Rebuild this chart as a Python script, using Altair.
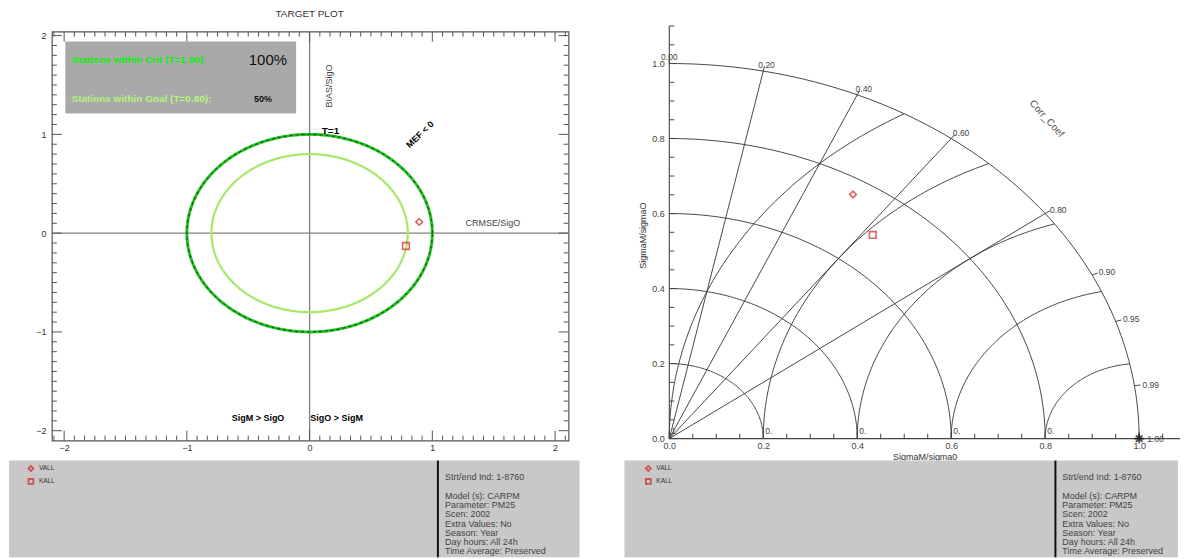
import numpy as np
import pandas as pd
import altair as alt

FONT = "Liberation Sans"

# ---------------- values ----------------
stations = ["VALL", "KALL"]
target_shapes = ["diamond", "square"]
target_crmse = [0.893, 0.785]       # CRMSE/SigO (signed by SigM vs SigO)
target_bias = [0.114, -0.130]       # BIAS/SigO
crit_radius = 1.0                   # T = 1.00
goal_radius = 0.8                   # T = 0.80
crit_label = "Stations within Crit (T=1.00):"
goal_label = "Stations within Goal (T=0.80):"
crit_pct = "100%"
goal_pct = "50%"
target_ticks_major = [-2, -1, 0, 1, 2]

taylor_x = [0.391, 0.433]           # sigmaM/sigmaO * corr
taylor_y = [0.651, 0.543]           # sigmaM/sigmaO * sqrt(1-corr^2)
taylor_shapes = ["diamond", "square"]
right_legend_shapes = ["diamond", "diamond"]

std_radii = [0.2, 0.4, 0.6, 0.8, 1.0]
rmsd_radii = [0.2, 0.4, 0.6, 0.8, 1.0]
rmsd_labels = ["0.", "0.", "0.", "0.", "1."]
corr_lines = [0.2, 0.4, 0.6, 0.8]
corr_ticks = [0.0, 0.2, 0.4, 0.6, 0.8, 0.9, 0.95, 0.99, 1.0]
corr_tick_labels = ["0.00", "0.20", "0.40", "0.60", "0.80", "0.90", "0.95", "0.99", "1.00"]
taylor_axis_values = [0.0, 0.2, 0.4, 0.6, 0.8, 1.0]

info_lines = ["Strt/end Ind: 1-8760", "", "Model (s): CARPM", "Parameter: PM25",
              "Scen: 2002", "Extra Values: No", "Season: Year",
              "Day hours: All 24h", "Time Average: Preserved"]

RED = "#d42020"

# ======================= TARGET PLOT =======================
tdx = [-2.1, 2.11]
tdy = [-2.1, 2.04]
TW, TH = 518, 410
tpx = TW / (tdx[1] - tdx[0])
tpy = TH / (tdy[1] - tdy[0])

TXS = alt.Scale(domain=tdx, nice=False, zero=False)
TYS = alt.Scale(domain=tdy, nice=False, zero=False)
t_xaxis = alt.Axis(values=target_ticks_major, ticks=False, domain=False, grid=False,
                   labelFontSize=9, labelColor="#333", labelPadding=3, labelFont=FONT,
                   labelFlush=False, title=None)
t_yaxis = alt.Axis(values=target_ticks_major, ticks=False, domain=False, grid=False,
                   labelFontSize=9, labelColor="#333", labelPadding=6, labelFont=FONT,
                   labelFlush=False, title=None)


def TX(f):
    return alt.X(f, type="quantitative", scale=TXS, axis=t_xaxis)


def TY(f):
    return alt.Y(f, type="quantitative", scale=TYS, axis=t_yaxis)


# frame ticks (inward)
trows = []
for k in range(-25, 26):
    v = k / 12
    L = 10 if k % 12 == 0 else 5
    trows.append(dict(x=v, x2=v, y=tdy[0], y2=tdy[0] + L / tpy))
    trows.append(dict(x=v, x2=v, y=tdy[1], y2=tdy[1] - L / tpy))
for k in range(-20, 21):
    v = k / 10
    L = 10 if k % 10 == 0 else 5
    trows.append(dict(y=v, y2=v, x=tdx[0], x2=tdx[0] + L / tpx))
    trows.append(dict(y=v, y2=v, x=tdx[1], x2=tdx[1] - L / tpx))
tticks = alt.Chart(pd.DataFrame(trows)).mark_rule(color="#555", strokeWidth=1).encode(
    x=TX("x"), x2="x2", y=TY("y"), y2="y2")

stat_box = alt.Chart(pd.DataFrame([dict(x=-1.99, x2=-0.11, y=1.21, y2=1.94)])).mark_rect(
    color="#a9a9a9").encode(x=TX("x"), x2="x2", y=TY("y"), y2="y2")

zero_v = alt.Chart(pd.DataFrame({"v": [0]})).mark_rule(color="#808080", strokeWidth=1.3).encode(x=TX("v"))
zero_h = alt.Chart(pd.DataFrame({"v": [0]})).mark_rule(color="#808080", strokeWidth=1.3).encode(y=TY("v"))

ang = np.linspace(0, 2 * np.pi, 361)
circ = pd.DataFrame([dict(r=r, o=i, x=r * np.cos(a), y=r * np.sin(a))
                     for r in [crit_radius, goal_radius] for i, a in enumerate(ang)])
goal_c = alt.Chart(circ).transform_filter(alt.datum.r == goal_radius).mark_line(
    color="#a6e86a", strokeWidth=2.2).encode(x=TX("x"), y=TY("y"), order="o:Q")
crit_c = alt.Chart(circ).transform_filter(alt.datum.r == crit_radius).mark_line(
    color="#22c322", strokeWidth=3).encode(x=TX("x"), y=TY("y"), order="o:Q")
crit_d = alt.Chart(circ).transform_filter(alt.datum.r == crit_radius).mark_line(
    color="#111", strokeWidth=0.8, strokeDash=[3, 3]).encode(x=TX("x"), y=TY("y"), order="o:Q")

tpts = pd.DataFrame(dict(name=stations, x=target_crmse, y=target_bias))
t_points = alt.Chart(tpts).mark_point(filled=False, color=RED, strokeWidth=1.6, size=45).encode(
    x=TX("x"), y=TY("y"),
    shape=alt.Shape("name:N", scale=alt.Scale(domain=stations, range=target_shapes), legend=None))


def ttext(df, **kw):
    base = dict(font=FONT, fontSize=9, color="#222")
    base.update(kw)
    return alt.Chart(pd.DataFrame(df)).mark_text(**base).encode(x=TX("x"), y=TY("y"), text="t:N")


t_texts = [
    ttext([dict(x=0.0, y=2.222, t="TARGET PLOT")], fontSize=10, color="#333"),
    ttext([dict(x=0.16, y=1.49, t="BIAS/SigO")], angle=270, color="#444"),
    ttext([dict(x=1.27, y=0.10, t="CRMSE/SigO")], align="left", color="#444"),
    ttext([dict(x=0.17, y=1.03, t="T=1")], fontWeight="bold", fontSize=10, color="#000"),
    ttext([dict(x=0.90, y=1.00, t="MEF < 0")], fontWeight="bold", angle=316, color="#000"),
    ttext([dict(x=-0.42, y=-1.87, t="SigM > SigO"), dict(x=0.22, y=-1.87, t="SigO > SigM")],
          fontWeight="bold", color="#000"),
    ttext([dict(x=-1.94, y=1.75, t=crit_label)], align="left", fontWeight="bold", fontSize=10,
          color="#0af00a"),
    ttext([dict(x=-1.94, y=1.36, t=goal_label)], align="left", fontWeight="bold", fontSize=10,
          color="#b4f57c"),
    ttext([dict(x=-0.34, y=1.75, t=crit_pct)], fontSize=15, color="#111"),
    ttext([dict(x=-0.38, y=1.36, t=goal_pct)], fontWeight="bold", color="#111"),
]

target = alt.layer(stat_box, zero_v, zero_h, goal_c, crit_c, crit_d, tticks, *t_texts, t_points).properties(
    width=TW, height=TH, view=alt.ViewBackground(stroke="#555", strokeWidth=1.2))

# ======================= TAYLOR DIAGRAM =======================
xd = [0, 1.087]
yd = [0, 1.085]
PW, PH = 512, 408
ppx = PW / (xd[1] - xd[0])
ppy = PH / (yd[1] - yd[0])

PXS = alt.Scale(domain=xd, nice=False, zero=False)
PYS = alt.Scale(domain=yd, nice=False, zero=False)
p_xaxis = alt.Axis(values=taylor_axis_values, format=".1f", ticks=False, domain=False, grid=False,
                   labelFontSize=9, labelColor="#444", labelPadding=3, labelFont=FONT,
                   labelFlush=False, title="SigmaM/sigma0", titleFont=FONT, titleFontSize=9,
                   titleFontWeight="normal", titleColor="#333", titlePadding=2)
p_yaxis = alt.Axis(values=taylor_axis_values, format=".1f", ticks=False, domain=False, grid=False,
                   labelFontSize=9, labelColor="#444", labelPadding=5, labelFont=FONT,
                   labelFlush=False, title="SigmaM/sigmaO", titleFont=FONT, titleFontSize=9,
                   titleFontWeight="normal", titleColor="#333", titlePadding=4)


def PX(f):
    return alt.X(f, type="quantitative", scale=PXS, axis=p_xaxis)


def PY(f):
    return alt.Y(f, type="quantitative", scale=PYS, axis=p_yaxis)


LINE = "#333"
th = np.linspace(0, np.pi / 2, 91)
std_df = pd.DataFrame([dict(r=r, o=i, x=r * np.cos(a), y=r * np.sin(a))
                       for r in std_radii for i, a in enumerate(th)])
std_arcs = alt.Chart(std_df).mark_line(color=LINE, strokeWidth=0.9).encode(
    x=PX("x"), y=PY("y"), detail="r:N", order="o:Q")

rm_rows = []
for rho in rmsd_radii:
    amax = np.arccos(rho / 2)
    for i, a in enumerate(np.linspace(0, amax, 90)):
        rm_rows.append(dict(r=rho, o=i, x=1 - rho * np.cos(a), y=rho * np.sin(a)))
rmsd_arcs = alt.Chart(pd.DataFrame(rm_rows)).mark_line(color=LINE, strokeWidth=0.9).encode(
    x=PX("x"), y=PY("y"), detail="r:N", order="o:Q")

rad_df = pd.DataFrame([dict(x=0, y=0, x2=c, y2=np.sqrt(1 - c * c)) for c in corr_lines])
radials = alt.Chart(rad_df).mark_rule(color=LINE, strokeWidth=0.9).encode(
    x=PX("x"), y=PY("y"), x2="x2", y2="y2")

ot_df = pd.DataFrame([dict(x=c, y=np.sqrt(1 - c * c), x2=c * 1.013, y2=np.sqrt(1 - c * c) * 1.013)
                      for c in corr_ticks])
outer_ticks = alt.Chart(ot_df).mark_rule(color=LINE, strokeWidth=0.9).encode(
    x=PX("x"), y=PY("y"), x2="x2", y2="y2")

ax_df = pd.DataFrame([dict(x=0, x2=xd[1], y=0, y2=0), dict(x=0, x2=0, y=0, y2=1.1)])
axes_lines = alt.Chart(ax_df).mark_rule(color="#444", strokeWidth=1.1).encode(
    x=PX("x"), y=PY("y"), x2="x2", y2="y2")

at_rows = []
for k in range(0, 23):
    L = 7 if k % 4 == 0 else 5
    at_rows.append(dict(x=0, x2=L / ppx, y=k * 0.05, y2=k * 0.05))
for k in range(0, 22):
    L = 7 if k % 4 == 0 else 5
    at_rows.append(dict(x=k * 0.05, x2=k * 0.05, y=0, y2=L / ppy))
axis_ticks = alt.Chart(pd.DataFrame(at_rows)).mark_rule(color="#444", strokeWidth=1).encode(
    x=PX("x"), y=PY("y"), x2="x2", y2="y2")

cl_df = pd.DataFrame(dict(t=corr_tick_labels,
                          x=[c * 1.035 for c in corr_ticks],
                          y=[np.sqrt(1 - c * c) * 1.017 for c in corr_ticks]))
corr_text = alt.Chart(cl_df).mark_text(font=FONT, fontSize=8.5, color="#444").encode(
    x=PX("x"), y=PY("y"), text="t:N")

rl_df = pd.DataFrame(dict(t=rmsd_labels, x=[1 - r for r in rmsd_radii], y=[0.0] * len(rmsd_radii)))
rmsd_text = alt.Chart(rl_df).mark_text(font=FONT, fontSize=8.5, color="#444", align="left",
                                       baseline="bottom", dx=2, dy=-3).encode(
    x=PX("x"), y=PY("y"), text="t:N")

cc_text = alt.Chart(pd.DataFrame([dict(x=0.803, y=0.853, t="Corr_Coef")])).mark_text(
    font=FONT, fontSize=10, color="#555", angle=48).encode(x=PX("x"), y=PY("y"), text="t:N")

ppts = pd.DataFrame(dict(name=stations, x=taylor_x, y=taylor_y))
p_points = alt.Chart(ppts).mark_point(filled=False, color=RED, strokeWidth=1.6, size=45).encode(
    x=PX("x"), y=PY("y"),
    shape=alt.Shape("name:N", scale=alt.Scale(domain=stations, range=taylor_shapes), legend=None))

ref_pt = alt.Chart(pd.DataFrame([dict(x=1.0, y=0.0)])).mark_point(
    shape="M-1,0L1,0M0,-1L0,1M-0.7,-0.7L0.7,0.7M-0.7,0.7L0.7,-0.7",
    filled=False, color="#000", strokeWidth=1.8, size=90).encode(x=PX("x"), y=PY("y"))

taylor = alt.layer(std_arcs, rmsd_arcs, radials, outer_ticks, axes_lines, axis_ticks,
                   corr_text, rmsd_text, cc_text, p_points, ref_pt).properties(width=PW, height=PH)

# ======================= INFO PANELS =======================
IW_L, IW_R, IH = 529, 510, 97
IXS = alt.Scale(domain=[0, 1], nice=False, zero=False)
IYS = alt.Scale(domain=[0, 1], nice=False, zero=False, reverse=True)


def IX(f):
    return alt.X(f, type="quantitative", scale=IXS, axis=None)


def IY(f):
    return alt.Y(f, type="quantitative", scale=IYS, axis=None)


def info_panel(width, box_left, sep_x, leg_x, leg_tx, info_x, shapes):
    box = alt.Chart(pd.DataFrame([dict(x=box_left, x2=1, y=0, y2=1)])).mark_rect(
        color="#c8c8c8").encode(x=IX("x"), x2="x2", y=IY("y"), y2="y2")
    sep = alt.Chart(pd.DataFrame([dict(x=sep_x, y=0, y2=1)])).mark_rule(
        color="#111", strokeWidth=2).encode(x=IX("x"), y=IY("y"), y2="y2")
    leg = pd.DataFrame(dict(name=stations, x=[leg_x] * 2, tx=[leg_tx] * 2, y=[0.082, 0.216]))
    sym = alt.Chart(leg).mark_point(filled=False, color=RED, strokeWidth=1.8, size=24).encode(
        x=IX("x"), y=IY("y"),
        shape=alt.Shape("name:N", scale=alt.Scale(domain=stations, range=shapes), legend=None))
    ltx = alt.Chart(leg).mark_text(font=FONT, fontSize=6.5, color="#333", align="left").encode(
        x=IX("tx"), y=IY("y"), text="name:N")
    inf = pd.DataFrame(dict(t=info_lines, x=[info_x] * len(info_lines),
                            y=[0.175 + i * 0.0954 for i in range(len(info_lines))]))
    itx = alt.Chart(inf).mark_text(font=FONT, fontSize=9, color="#444", align="left").encode(
        x=IX("x"), y=IY("y"), text="t:N")
    return alt.layer(box, sep, sym, ltx, itx).properties(width=width, height=IH)


info_left = info_panel(IW_L, -0.0813, 0.7316, -0.0397, -0.0246, 0.745, target_shapes)
info_right = info_panel(IW_R, -0.0882, 0.759, -0.0412, -0.0255, 0.7725, right_legend_shapes)

chart = alt.concat(target, taylor, info_left, info_right, columns=2,
                   spacing={"row": 20, "column": 90}, bounds="flush").properties(
    padding={"left": 8, "top": 7, "right": 4, "bottom": 2},
    background="white",
).configure(font=FONT, view=alt.ViewConfig(stroke="transparent"))

chart.save("out.html", embed_options={"renderer": "svg", "actions": False})
